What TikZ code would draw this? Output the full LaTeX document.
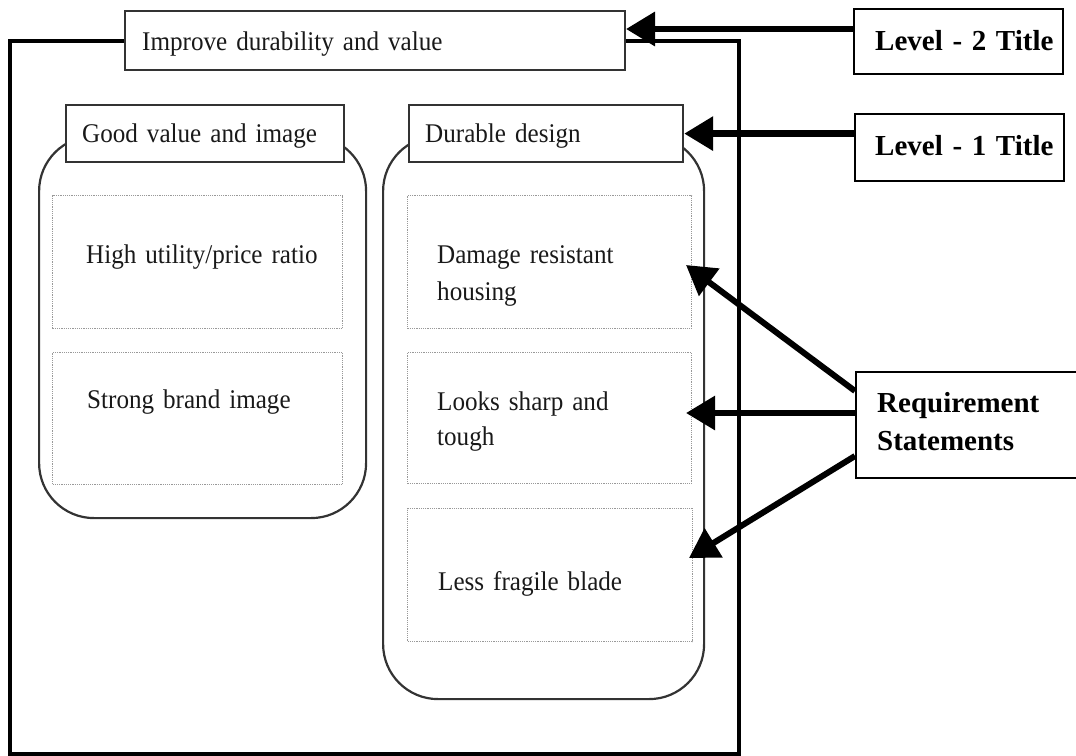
\documentclass[tikz,border=0pt]{standalone}
\usepackage{fontspec}
\setmainfont{Liberation Serif}[FakeStretch=0.93]
\newfontfamily\keyfont{Liberation Serif}
\usetikzlibrary{arrows.meta}
\begin{document}
\begin{tikzpicture}[x=1pt,y=-1pt,
  frame/.style={line width=4pt, black, line join=miter},
  header/.style={draw=black!80, line width=2.2pt, fill=white, anchor=north west, inner sep=0pt},
  group/.style={draw=black!80, line width=2.2pt, rounded corners=55pt, anchor=north west, inner sep=0pt},
  reqbox/.style={draw=black!40, line width=1.2pt, densely dotted, anchor=north west, inner sep=0pt},
  label/.style={anchor=base west, inner sep=0pt, text width=400pt, align=left,
                font=\fontsize{27}{37}\selectfont, text=black!90},
  keybox/.style={draw=black, line width=2pt, fill=white, anchor=north west, inner sep=0pt},
  keytext/.style={anchor=base west, inner sep=0pt, text width=200pt, align=left,
                  font=\keyfont\bfseries\fontsize{29}{38}\selectfont},
  bigarrow/.style={line width=6.5pt, -{Triangle[length=29pt,width=33pt]}},
]
\useasboundingbox (0,0) rectangle (1076,755);

% top-level title and its enclosing frame
\node[header, minimum width=500pt, minimum height=59pt] (title) at (124,10) {};
\coordinate (frameBL) at (10,754);
\coordinate (frameBR) at (739,754);
\draw[frame] (title.west) -| (frameBL) -- (frameBR) |- (title.east);

% the two groups
\node[group, minimum width=327pt, minimum height=382pt] (grpL) at (38,135) {};
\node[group, minimum width=321pt, minimum height=563pt] (grpR) at (382,135) {};

% requirement boxes
\node[reqbox, minimum width=290pt, minimum height=133pt] (r1) at (52,195) {};
\node[reqbox, minimum width=290pt, minimum height=132pt] (r2) at (52,352) {};
\node[reqbox, minimum width=284pt, minimum height=133pt] (r3) at (407,195) {};
\node[reqbox, minimum width=284pt, minimum height=131pt] (r4) at (407,352) {};
\node[reqbox, minimum width=285pt, minimum height=133pt] (r5) at (407,508) {};

\node[label] (t1) at (86,263) {High utility/price ratio};
\node[label] (t2) at (87,408) {Strong brand image};
\node[label] (t3) at (437,263) {Damage resistant\\housing};
\node[label] (t4) at (437,410) {Looks sharp and\\[-2pt]tough};
\node[label] (t5) at (438,590) {Less fragile blade};

% group headers
\node[header, minimum width=278pt, minimum height=57pt] (gv) at (65,104) {};
\node[header, minimum width=274pt, minimum height=57pt] (dd) at (408,104) {};
\node[label] (gvt) at (82,142) {Good value and image};
\node[label] (ddt) at (425,142) {Durable design};
\node[label] (titlet) at (142,50) {Improve durability and value};

% legend boxes
\node[keybox, minimum width=209pt, minimum height=65pt] (lvl2) at (853,8) {};
\node[keybox, minimum width=209pt, minimum height=67pt] (lvl1) at (854,113) {};
\node[keybox, minimum width=230pt, minimum height=106pt] (req) at (855,371) {};
\node[keytext] (lvl2t) at (875,50) {Level - 2 Title};
\node[keytext] (lvl1t) at (875,155) {Level - 1 Title};
\node[keytext] (reqt) at (877,412) {Requirement\\Statements};

% pointers
\coordinate (l2tip) at (626,29);
\coordinate (a1) at (686,265);
\coordinate (a2) at (686,413);
\coordinate (a3) at (689,558);
\draw[bigarrow] (lvl2.west |- l2tip) -- (l2tip);
\draw[bigarrow] (lvl1.west |- dd.east) -- (dd.east);
\draw[bigarrow, line width=6pt] ([yshift=34pt]req.west) -- (a1);
\draw[bigarrow, line width=6pt] (req.west |- a2) -- (a2);
\draw[bigarrow, line width=6pt] ([yshift=-31pt]req.west) -- (a3);
\end{tikzpicture}
\end{document}
